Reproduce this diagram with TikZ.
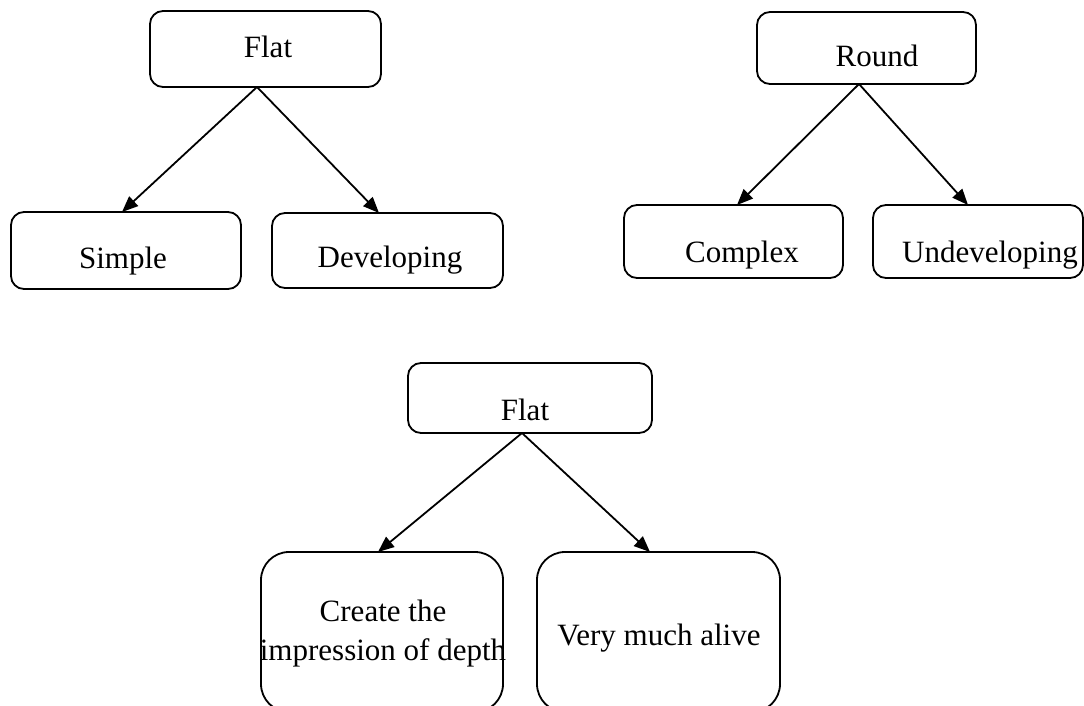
\documentclass[tikz,border=0pt]{standalone}
\usepackage{fontspec}
\setmainfont{Liberation Serif}
\usetikzlibrary{arrows.meta}
\tikzset{
  box/.style={draw, line width=1.8pt, rounded corners=13pt, inner sep=0pt, outer sep=0pt},
  tallbox/.style={box, rounded corners=28pt},
  txt/.style={inner sep=0pt, anchor=base, font=\fontsize{31}{39}\selectfont},
  arr/.style={line width=1.8pt, -{Triangle[length=16pt,width=13pt]}}
}
\begin{document}
\begin{tikzpicture}[x=1pt,y=-1pt]
\useasboundingbox (0,0) rectangle (1084,706);
% boxes
\node[box, minimum width=231pt, minimum height=76pt] (flat1) at (265.5,49) {};
\node[box, minimum width=230pt, minimum height=77pt] (simple) at (126,250.5) {};
\node[box, minimum width=231pt, minimum height=75pt] (devel) at (387.5,250.5) {};
\node[box, minimum width=219pt, minimum height=72pt] (round) at (866.5,48) {};
\node[box, minimum width=219pt, minimum height=73pt] (complex) at (733.5,241.5) {};
\node[box, minimum width=210pt, minimum height=73pt] (undev) at (978,241.5) {};
\node[box, minimum width=244pt, minimum height=70pt] (flat2) at (530,398) {};
\node[tallbox, minimum width=242pt, minimum height=160pt] (create) at (382,632) {};
\node[tallbox, minimum width=243pt, minimum height=160pt] (alive) at (658.5,632) {};
% texts
\node[txt] (flat1t) at (268,58) {Flat};
\node[txt] (simplet) at (123,268) {Simple};
\node[txt] (develt) at (390,267) {Developing};
\node[txt] (roundt) at (877,67) {Round};
\node[txt] (complext) at (742,262) {Complex};
\node[txt] (undevt) at (990,262) {Undeveloping};
\node[txt] (flat2t) at (525,420) {Flat};
\node[txt] (createt1) at (383,621) {Create the};
\node[txt] (createt2) at (383,660) {impression of depth};
\node[txt] (alivet) at (659,645) {Very much alive};
% arrows
\draw[arr] ([xshift=-8.5pt]flat1.south) -- ([xshift=-4pt]simple.north);
\draw[arr] ([xshift=-8.5pt]flat1.south) -- ([xshift=-8.5pt]devel.north);
\draw[arr] ([xshift=-7.5pt]round.south) -- ([xshift=3.5pt]complex.north);
\draw[arr] ([xshift=-7.5pt]round.south) -- ([xshift=-10pt]undev.north);
\draw[arr] ([xshift=-8pt]flat2.south) -- ([xshift=-4pt]create.north);
\draw[arr] ([xshift=-8pt]flat2.south) -- ([xshift=-8.5pt]alive.north);
\end{tikzpicture}
\end{document}
